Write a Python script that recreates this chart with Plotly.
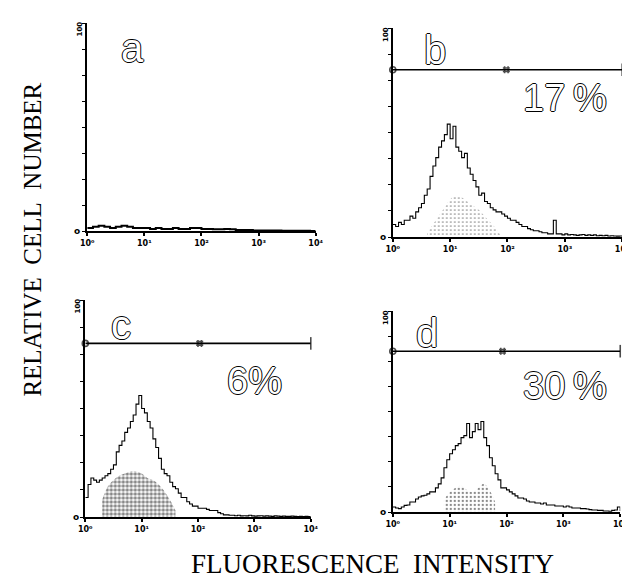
import numpy as np
import plotly.graph_objects as go

# ---------------- data ----------------
tick_vals = [1, 10, 100, 1000, 10000]
tick_text = ["10⁰", "10¹", "10²", "10³", "10⁴"]

# panel a: channel step 0.1 decade (log10 units)
step_a = 0.1
counts_a = [1.5, 2, 2.5, 2, 1.5, 2, 2.5, 2, 1.5, 1.5, 1.5, 1, 1.5, 1, 1, 1.5, 1, 1,
            1.5, 1.5, 1, 1, 0.8, 0.8, 1, 0.8, 0.5, 0.5, 0.5, 0.3, 0.3, 0.2, 0.2,
            0.2, 0.1, 0.1, 0.1, 0.1, 0.1, 0, 0]

# panels b, c, d: channel step 0.05 decade
step_bcd = 0.05
counts_b = [6, 5, 7, 6, 8, 8, 10, 9, 12, 14, 16, 20, 23, 29, 34, 38, 43, 46, 49, 54,
            47, 53, 43, 41, 38, 40, 33, 30, 27, 24, 20, 21, 17, 16, 14, 13, 12, 12, 11, 10,
            9, 8, 8, 7, 6, 5, 5, 4, 3.5, 3, 3, 2.5, 2, 2, 1.5, 1.5, 8, 1.5, 1.5, 1,
            1.5, 1, 1.2, 1, 0.8, 1, 1.2, 0.8, 1, 0.8, 1, 0.6, 0.8, 0.6, 0.8, 0.5, 0.6, 0.5,
            0.4, 0.5, 0.3]
counts_c = [9, 15, 18, 17, 16, 17, 18, 19, 20, 22, 24, 30, 33, 35, 39, 41, 44, 47, 52, 56,
            50, 48, 44, 41, 36, 32, 27, 22, 20, 19, 16, 14, 13, 11, 9, 9, 7, 6, 5, 5,
            4, 4, 4, 3.5, 3, 3, 3, 2, 1.5, 1, 1, 0.8, 0.8, 0.6, 0.8, 0.5, 0.6, 0.5, 0.8, 0.5,
            0.4, 0.5, 0.6, 0.4, 0.5, 0.4, 0.3, 0.5, 0.4, 0.3, 0.4, 0.3, 0.3, 0.4, 0.3, 0.2,
            0.3, 0.2, 0.3, 0.2, 0.2]
counts_d = [2.5, 2, 1.7, 2.5, 3.3, 3.5, 5, 5, 6.5, 7.5, 8, 8.3, 9, 10, 10, 12, 14, 17, 22, 26,
            29, 31, 33, 34, 37, 38, 44, 37, 40, 44, 41, 45, 37, 33, 27, 23, 19, 16, 12, 12,
            11, 10, 9, 8, 7, 7, 6.5, 5.5, 5, 5, 4.5, 4.5, 4, 4.5, 3.5, 3.5, 3.5, 3, 3, 3,
            2.5, 3, 2.5, 2, 2, 2, 1.7, 1.7, 1.5, 1.2, 1, 1, 0.8, 0.8, 0.5, 0.5, 0.4, 0.8,
            1, 2.5, 0.5]

# stippled inner (bright) population, log10 positions and heights
stip_b_log = [0.6, 0.7, 0.8, 0.9, 1.0, 1.1, 1.2, 1.3, 1.4, 1.5, 1.6, 1.7, 1.8, 1.9]
stip_b = [2, 6, 10, 14, 18, 20, 19, 17, 15, 13, 10, 7, 4, 0]
stip_c_log = [0.3, 0.4, 0.5, 0.6, 0.7, 0.8, 0.9, 1.0, 1.1, 1.2, 1.3, 1.4, 1.5, 1.6]
stip_c = [8, 14, 17, 19, 20, 21, 21, 20, 18, 17, 15, 12, 8, 3]
stip_d_log = [0.9, 1.0, 1.1, 1.2, 1.3, 1.4, 1.5, 1.6, 1.7, 1.8]
stip_d = [6, 10, 12, 13, 11, 10, 12, 14, 11, 5]

gate_level = 80
gate_marker_log = {"b": 1.98, "c": 2.03, "d": 1.93}
percent_text = {"b": "17\u2009%", "c": "6%", "d": "30\u2009%"}
panel_letters = ["a", "b", "c", "d"]

# ---------------- layout geometry (pixels) ----------------
W, H = 630, 581
boxes = {
    "a": dict(x0=74, x1=308, yb=223, yt=15),
    "b": dict(x0=387, x1=622, yb=229, yt=20),
    "c": dict(x0=72, x1=303, yb=509, yt=292),
    "d": dict(x0=387, x1=620, yb=504, yt=303),
}
letter_pos = {"a": (120, 40), "b": (430, 42), "c": (109, 317), "d": (422, 325)}
pct_pos = {"b": (563, 90), "c": (245, 373), "d": (563, 378)}


def px(x):
    return x / W


def py(y):
    return 1 - y / H


fig = go.Figure()
stip = {"b": (stip_b_log, stip_b, 0.15), "c": (stip_c_log, stip_c, 0.55),
        "d": (stip_d_log, stip_d, 0.25)}
hist = {"a": (step_a, counts_a), "b": (step_bcd, counts_b),
        "c": (step_bcd, counts_c), "d": (step_bcd, counts_d)}

for i, key in enumerate(panel_letters):
    n = "" if i == 0 else str(i + 1)
    xa, ya = "x" + n, "y" + n
    if key in stip:
        lg, hv, sol = stip[key]
        fig.add_trace(go.Scatter(
            x=[10 ** v for v in lg], y=hv, xaxis=xa, yaxis=ya, mode="lines",
            line=dict(width=0, shape="spline"), fill="tozeroy",
            fillcolor="rgba(255,255,255,0)",
            fillpattern=dict(shape=".", fgcolor="#111", bgcolor="white",
                             size=4, solidity=sol),
            hoverinfo="skip", showlegend=False))
    stp, cts = hist[key]
    xs = [10 ** (k * stp) for k in range(len(cts))]
    fig.add_trace(go.Scatter(
        x=xs, y=cts, xaxis=xa, yaxis=ya, mode="lines",
        line=dict(color="black", width=2 if key == "a" else 1.1, shape="hv"),
        showlegend=False))
    if key in gate_marker_log:
        fig.add_trace(go.Scatter(
            x=[1, 10000], y=[gate_level, gate_level], xaxis=xa, yaxis=ya,
            mode="lines", line=dict(color="black", width=1.6), showlegend=False,
            cliponaxis=False))
        fig.add_trace(go.Scatter(
            x=[1, 10 ** gate_marker_log[key], 10000],
            y=[gate_level] * 3, xaxis=xa, yaxis=ya, mode="markers",
            marker=dict(symbol=["circle-open", "hash-open", "line-ns-open"],
                        size=[6, 7, 9], color="black", line=dict(width=1.6)),
            showlegend=False, cliponaxis=False))

    b = boxes[key]
    fig.update_layout(**{
        ("xaxis" + n): dict(type="log", range=[0, 4], domain=[px(b["x0"]), px(b["x1"])],
                            anchor=ya, showline=True, linecolor="black", linewidth=2,
                            ticks="outside", ticklen=3, tickwidth=1.5, tickcolor="black",
                            tickvals=tick_vals, ticktext=tick_text,
                            tickfont=dict(size=8, family="DejaVu Sans", color="black",
                                          weight="bold"),
                            showgrid=False, zeroline=False, fixedrange=True),
        ("yaxis" + n): dict(range=[0, 100], domain=[py(b["yb"]), py(b["yt"])],
                            anchor=xa, showline=True, linecolor="black", linewidth=2,
                            ticks="outside", ticklen=3, tickwidth=1, tickcolor="black",
                            tickvals=[0, 12.5, 25, 37.5, 50, 62.5, 75, 87.5, 100],
                            showticklabels=False, showgrid=False, zeroline=False,
                            fixedrange=True),
    })

annotations = []
outline = "1px 0 0 #000, -1px 0 0 #000, 0 1px 0 #000, 0 -1px 0 #000"
big_font = "Liberation Sans, Arial, sans-serif"


def ann(x, y, text, **kw):
    d = dict(x=px(x), y=py(y), xref="paper", yref="paper", text=text,
             showarrow=False, xanchor="center", yanchor="middle")
    d.update(kw)
    return d


for key in panel_letters:
    b = boxes[key]
    lx, ly = letter_pos[key]
    annotations.append(ann(lx, ly, key,
                           font=dict(size=40, family=big_font, color="white",
                                     shadow=outline)))
    if key in pct_pos:
        tx, ty = pct_pos[key]
        annotations.append(ann(tx, ty, percent_text[key],
                               font=dict(size=38, family=big_font, color="white",
                                         shadow=outline)))
    annotations.append(ann(b["x0"] - 7, b["yt"] + 6, "100", textangle=-90,
                           font=dict(size=7, family="DejaVu Sans", color="black",
                                     weight="bold")))
    annotations.append(ann(b["x0"] - 10, b["yb"], "o",
                           font=dict(size=9, family="DejaVu Sans", color="black",
                                     weight="bold")))

annotations.append(ann(18, 232, "RELATIVE\u00a0 CELL\u00a0 NUMBER", textangle=-90,
                       font=dict(size=25, family="Liberation Serif, serif",
                                 color="black")))
annotations.append(ann(366, 556, "FLUORESCENCE\u00a0 INTENSITY",
                       font=dict(size=27, family="Liberation Serif, serif",
                                 color="black")))

fig.update_layout(width=W, height=H, margin=dict(l=0, r=0, t=0, b=0),
                  paper_bgcolor="white", plot_bgcolor="white",
                  annotations=annotations, showlegend=False)

fig.write_html("out.html")
